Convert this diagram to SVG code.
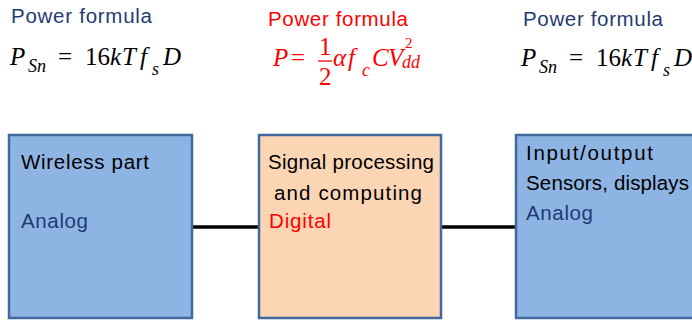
<svg xmlns="http://www.w3.org/2000/svg" width="692" height="320" viewBox="0 0 692 320">
<style>
.lbl{font-family:"Liberation Sans",Arial,sans-serif;font-size:20.5px;fill:#000}
.blue{fill:#1F3B73}
.red{fill:#FF0000}
.math{font-family:"Liberation Serif","Times New Roman",serif;font-style:italic;font-size:25px}
.up{font-style:normal}
.sub{font-size:18px}
.sup{font-size:15px;font-style:normal}
.analog{stroke:#41699C;stroke-width:2.5;fill:#8EB4E3}
.digital{stroke:#41699C;stroke-width:2.5;fill:#FCD5B5}
.conn{stroke:#000;stroke-width:3.5;fill:none}
</style>
<rect width="692" height="320" fill="#fff"/>
<g id="formula-left">
<text class="lbl blue" x="11" y="23" textLength="141" lengthAdjust="spacing">Power formula</text>
<text class="math" fill="#000"><tspan x="10" y="65">P</tspan><tspan class="sub" x="28" y="72">Sn</tspan><tspan class="up" x="58" y="65">=</tspan><tspan class="up" x="85" y="65">16</tspan><tspan x="110" y="65">k</tspan><tspan x="122" y="65">T</tspan><tspan x="140" y="65">f</tspan><tspan class="sub" x="152" y="75">s</tspan><tspan x="163" y="65">D</tspan></text>
</g>
<g id="formula-middle">
<text class="lbl red" x="268" y="26" textLength="140" lengthAdjust="spacing">Power formula</text>
<text class="math" fill="#FF0000"><tspan x="273" y="66">P</tspan><tspan class="up" x="291" y="66">=</tspan><tspan class="up" x="319" y="55">1</tspan><tspan class="up" x="319" y="85">2</tspan><tspan x="333" y="66">α</tspan><tspan x="348" y="66">f</tspan><tspan class="sub" x="362" y="76">c</tspan><tspan x="372" y="66">C</tspan><tspan x="388" y="66">V</tspan><tspan class="sup" x="405" y="48">2</tspan><tspan class="sub" x="402" y="68">dd</tspan></text>
<line x1="318" y1="61" x2="332" y2="61" stroke="#FF0000" stroke-width="1.3"/>
</g>
<g id="formula-right">
<text class="lbl blue" x="523" y="26" textLength="140" lengthAdjust="spacing">Power formula</text>
<text class="math" fill="#000"><tspan x="521" y="66">P</tspan><tspan class="sub" x="539" y="73">Sn</tspan><tspan class="up" x="569" y="66">=</tspan><tspan class="up" x="596" y="66">16</tspan><tspan x="621" y="66">k</tspan><tspan x="633" y="66">T</tspan><tspan x="651" y="66">f</tspan><tspan class="sub" x="663" y="76">s</tspan><tspan x="674" y="66">D</tspan></text>
</g>
<g id="connectors">
<line class="conn" x1="192" y1="227" x2="259" y2="227"/>
<line class="conn" x1="441" y1="227" x2="516" y2="227"/>
</g>
<g id="node-wireless">
<rect class="analog" x="9" y="135" width="183" height="183"/>
<text class="lbl" x="21" y="169" textLength="128" lengthAdjust="spacing">Wireless part</text>
<text class="lbl blue" x="21" y="228" textLength="67" lengthAdjust="spacing">Analog</text>
</g>
<g id="node-digital">
<rect class="digital" x="259" y="135" width="182" height="183"/>
<text class="lbl" x="268" y="169" textLength="166" lengthAdjust="spacing">Signal processing</text>
<text class="lbl" x="274" y="200" textLength="148" lengthAdjust="spacing">and computing</text>
<text class="lbl red" x="269" y="228" textLength="62" lengthAdjust="spacing">Digital</text>
</g>
<g id="node-io">
<rect class="analog" x="516" y="135" width="190" height="183"/>
<text class="lbl" x="526" y="160" textLength="127" lengthAdjust="spacing">Input/output</text>
<text class="lbl" x="526" y="190" textLength="163" lengthAdjust="spacing">Sensors, displays</text>
<text class="lbl blue" x="526" y="220" textLength="67" lengthAdjust="spacing">Analog</text>
</g>
</svg>
